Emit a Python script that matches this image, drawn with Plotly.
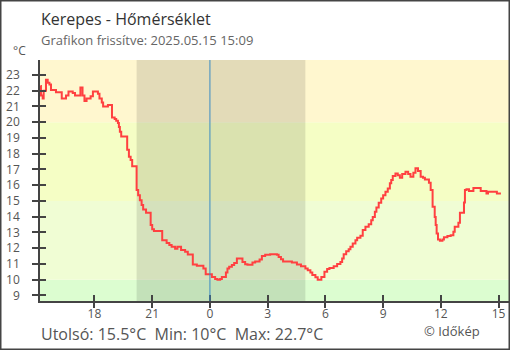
import plotly.graph_objects as go

# ---- data (hours since 2025-05-14 00:00; 24 = midnight) ----
hours = [15.19, 15.22, 15.31, 15.36, 15.48, 15.57, 15.66, 15.74, 16.00, 16.30,
         16.52, 16.65, 16.87, 16.99, 17.27, 17.38, 17.48, 17.59, 17.80, 17.92,
         18.18, 18.26, 18.38, 18.45, 18.70, 18.91, 19.05, 19.13, 19.22, 19.27,
         19.32, 19.39, 19.70, 19.79, 19.88, 19.96, 20.19, 20.27, 20.36, 20.45,
         20.53, 20.68, 20.92, 21.00, 21.09, 21.52, 21.75, 21.89, 22.01, 22.19,
         22.31, 22.50, 22.71, 22.85, 23.11, 23.32, 23.66, 23.78, 24.10, 24.27,
         24.39, 24.53, 24.62, 24.83, 24.91, 25.00, 25.14, 25.26, 25.40, 25.69,
         25.83, 25.95, 26.21, 26.35, 26.58, 26.70, 26.87, 27.13, 27.48, 27.57,
         27.69, 27.80, 28.26, 28.52, 28.73, 28.96, 29.08, 29.22, 29.32, 29.48,
         29.60, 29.79, 29.95, 30.09, 30.21, 30.43, 30.61, 30.78, 30.87, 30.95,
         31.08, 31.21, 31.30, 31.42, 31.56, 31.65, 31.82, 31.94, 32.08, 32.25,
         32.38, 32.46, 32.57, 32.65, 32.77, 32.90, 33.00, 33.12, 33.24, 33.35,
         33.42, 33.50, 33.64, 33.76, 33.87, 33.99, 34.16, 34.30, 34.42, 34.57,
         34.68, 34.81, 34.95, 35.07, 35.17, 35.38, 35.47, 35.57, 35.68, 35.73,
         35.78, 35.85, 35.95, 36.08, 36.16, 36.34, 36.51, 36.65, 36.72, 36.91,
         36.99, 37.20, 37.25, 37.33, 37.46, 37.69, 38.07, 38.37, 38.45, 38.91,
         39.12]
temps = [22.3, 21.7, 21.5, 22.0, 22.7, 22.5, 22.4, 22.05, 21.9, 21.5,
         21.7, 21.95, 21.85, 21.7, 22.2, 21.7, 21.35, 21.5, 21.65, 21.95,
         21.8, 21.5, 21.25, 21.0, 21.1, 20.3, 20.2, 20.1, 19.95, 19.7,
         19.4, 19.1, 18.25, 17.8, 17.6, 17.2, 15.7, 15.37, 15.05, 14.74,
         14.46, 14.25, 13.47, 13.2, 13.1, 12.5, 12.34, 12.2, 12.09, 11.96,
         12.09, 11.88, 11.77, 11.6, 10.97, 10.88, 10.72, 10.35, 10.18, 10.05,
         10.0, 10.05, 10.18, 10.46, 10.71, 10.82, 10.93, 11.07, 11.35, 11.13,
         10.99, 10.95, 11.1, 11.16, 11.29, 11.5, 11.58, 11.62, 11.58, 11.45,
         11.3, 11.16, 11.1, 10.97, 10.86, 10.71, 10.6, 10.46, 10.3, 10.15,
         10.0, 10.18, 10.5, 10.68, 10.75, 10.85, 11.0, 11.13, 11.35, 11.62,
         11.81, 11.94, 12.09, 12.3, 12.51, 12.66, 12.79, 13.15, 13.36, 13.53,
         13.78, 13.99, 14.31, 14.59, 14.88, 15.16, 15.37, 15.58, 15.8, 16.12,
         16.33, 16.58, 16.75, 16.64, 16.47, 16.71, 16.85, 16.71, 16.54, 16.79,
         17.07, 16.9, 16.54, 16.47, 16.37, 16.15, 15.69, 14.63, 13.99, 13.47,
         12.94, 12.56, 12.47, 12.56, 12.69, 12.77, 12.83, 13.04, 13.36, 13.61,
         14.25, 14.91, 15.69, 15.75, 15.64, 15.83, 15.64, 15.47, 15.58, 15.47,
         15.47]

x_tickvals = [18, 21, 24, 27, 30, 33, 36, 39]
x_ticktext = ["18", "21", "0", "3", "6", "9", "12", "15"]
y_tickvals = list(range(9, 24))

band_edges = [-100, 10, 15, 20, 100]
band_colors = ["#dcfdd0", "#f0fdd4", "#f5fec5", "#fff7cf"]

night_start, night_end = 20.19, 28.96
midnight = 24

title = "Kerepes - Hőmérséklet"
subtitle = "Grafikon frissítve: 2025.05.15 15:09"
footer = "Utolsó: 15.5°C  Min: 10°C  Max: 22.7°C"
credit = "© Időkép"

X_RANGE = [15.17, 39.54]
Y_RANGE = [8.65, 23.95]

W, H = 510, 350
ML, MR, MT, MB = 40, 1, 60, 49
PW, PH = W - ML - MR, H - MT - MB

def px_x(p):
    return (p - ML) / PW

def px_y(p):
    return (H - MB - p) / PH

FONT = "Open Sans, Noto Sans, DejaVu Sans, sans-serif"
AX = "#444444"

fig = go.Figure()

fig.add_trace(go.Scatter(
    x=hours, y=temps, mode="lines", line=dict(color="#ff4040", width=2, shape="hv"),
    hoverinfo="skip", showlegend=False))
# invisible copy to anchor overlay axes (for crossing ticks)
fig.add_trace(go.Scatter(
    x=hours, y=temps, mode="lines", line=dict(width=0), opacity=0,
    xaxis="x2", yaxis="y2", hoverinfo="skip", showlegend=False))

for i in range(len(band_colors)):
    fig.add_hrect(y0=band_edges[i], y1=band_edges[i + 1], fillcolor=band_colors[i],
                  line_width=0, layer="below")
fig.add_vrect(x0=night_start, x1=night_end, fillcolor="rgba(0,0,0,0.11)",
              line_width=0, layer="below")
fig.add_vline(x=midnight, line=dict(color="#3a8cc4", width=1))

axis_common = dict(showgrid=False, zeroline=False, linecolor=AX, linewidth=1.5,
                   tickcolor=AX, tickwidth=1.5, mirror=False)

fig.update_layout(
    width=W, height=H,
    margin=dict(l=ML, r=MR, t=MT, b=MB),
    paper_bgcolor="white", plot_bgcolor="white",
    font=dict(family=FONT, color="#555555", size=12),
    xaxis=dict(range=X_RANGE, tickvals=x_tickvals, ticktext=x_ticktext,
               ticks="outside", ticklen=5, showline=True,
               tickfont=dict(size=12, color="#555"), ticklabelstandoff=-4,
               **axis_common),
    yaxis=dict(range=Y_RANGE, tickvals=y_tickvals, ticks="outside", ticklen=6,
               showline=True, tickfont=dict(size=12, color="#555"),
               ticklabelstandoff=10, **axis_common),
    xaxis2=dict(range=X_RANGE, tickvals=x_tickvals, ticks="inside", overlaying="x",
                anchor="y2", side="bottom", showticklabels=False, showline=False,
                showgrid=False, zeroline=False, tickcolor=AX, tickwidth=1.5, ticklen=6),
    yaxis2=dict(range=Y_RANGE, tickvals=y_tickvals, ticks="inside", overlaying="y",
                anchor="x2", side="left", showticklabels=False, showline=False,
                showgrid=False, zeroline=False, tickcolor=AX, tickwidth=1.5, ticklen=6),
)

ann = [
    dict(text=title, x=px_x(39), y=px_y(19), xanchor="left", yanchor="middle",
         font=dict(size=16, color="#333333")),
    dict(text=subtitle, x=px_x(39), y=px_y(40), xanchor="left", yanchor="middle",
         font=dict(size=13, color="#666666")),
    dict(text="°C", x=px_x(19), y=px_y(51), xanchor="center", yanchor="middle",
         font=dict(size=12, color="#555555")),
    dict(text=footer, x=px_x(39), y=px_y(334), xanchor="left", yanchor="middle",
         font=dict(size=16, color="#555555")),
    dict(text=credit, x=px_x(482), y=px_y(331), xanchor="right", yanchor="middle",
         font=dict(size=13, color="#555555")),
]
for a in ann:
    fig.add_annotation(xref="paper", yref="paper", showarrow=False, **a)

# outer frame
fig.add_shape(type="rect", xref="paper", yref="paper",
              x0=px_x(0.75), x1=px_x(W - 0.75), y0=px_y(H - 0.75), y1=px_y(0.75),
              line=dict(color="#444444", width=1.5), fillcolor="rgba(0,0,0,0)",
              layer="above")

fig.write_html("out.html")
